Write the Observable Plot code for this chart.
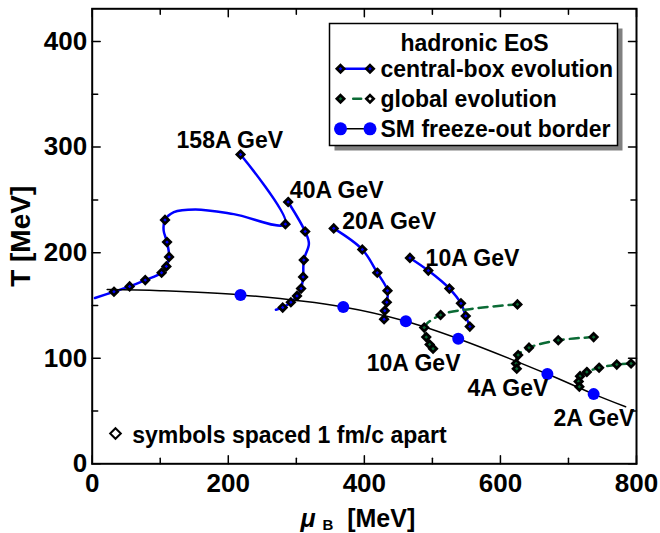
<!DOCTYPE html>
<html><head><meta charset="utf-8">
<script src="https://cdn.jsdelivr.net/npm/d3@7"></script>
<script src="https://cdn.jsdelivr.net/npm/@observablehq/plot@0.6"></script>
<style>
body{margin:0;background:#fff;}
</style></head><body><div id="chart"></div>
<script>
// ---- axis ticks ----
const xTicks = [0, 200, 400, 600, 800];
const xMinor = [100, 300, 500, 700];
const yTicks = [0, 100, 200, 300, 400];
const yMinor = [50, 150, 250, 350];
const xDomain = [0, 800];
const yDomain = [0, 431];

// ---- central-box evolution (hadronic EoS): [muB, T, symbol?] ----
const box158 = [[218,293,1],[284,227,1],[208,236.5,0],[152,241,0],[120,238.5,0],[107,231,1],[105,221,0],[110,210,1],[113,196,1],[109,187,1],[102,181,1],[78,174,1],[55,168,1],[32,163,1],[4,157,0]];
const box40  = [[288,248,1],[313,220,1],[318.5,208.5,0],[311,193,1],[310,177,1],[307,166,1],[301,159,1],[292,153,1],[280,148,1],[270,146,0]];
const box20  = [[355,223,1],[397,203,1],[419,181,1],[434,164,1],[433,153,1],[430,145,1],[429,137,1]];
const box10  = [[467,195,1],[494,183,1],[525,166,1],[542,152,1],[549,140,1],[555,130,1]];

// ---- global evolution ----
const glob10 = [[625,151,1],[560,147,0],[512,141,1],[488,129,1],[491,120,1],[496,113,1],[501,109,1]];
const glob4  = [[737,120,1],[685,117,1],[642,110,1],[626,103,1],[623,95,1],[624,90,1]];
const glob2  = [[792,95,1],[771,94,1],[745,91,1],[727,87,1],[717,83,1],[715,78,1],[716,73,1]];

// ---- statistical-model freeze-out border ----
const smLine = [[22,165],[100,164],[218,160],[369,148.5],[461,135],[538,118.5],[669,85],[737,66],[784,54]];
const smDots = [[218,160],[369,148.5],[461,135],[538,118.5],[669,85],[737,66]];

// ---- energy labels: [muB, T, text] ----
const energyLabels = [
  [124, 306, "158A GeV"],
  [290.5, 259, "40A GeV"],
  [367.5, 229, "20A GeV"],
  [490, 194, "10A GeV"],
  [403.5, 95, "10A GeV"],
  [551.5, 71, "4A GeV"],
  [678, 43, "2A GeV"]
];

const legendTitle = "hadronic EoS";
const legendItems = ["central-box evolution", "global evolution", "SM freeze-out border"];
const noteText = "symbols spaced 1 fm/c apart";

const BLUE = "#0000ff", GREEN = "#0b6b35";
const FONT = "Liberation Sans, Arial, sans-serif";

const seg = {draw(ctx, l) { ctx.moveTo(0, 0); ctx.lineTo(0, -l); }};
const tk = (data, o) => Plot.vector(data, {shape: seg, anchor: "start", stroke: "black", strokeWidth: 1.5, ...o});
const X = d => d[0], Y = d => d[1];
const sym = arr => arr.filter(d => d[2]);

const diamond = (arr, fill) => Plot.dot(sym(arr), {x: X, y: Y, symbol: "diamond2", r: 3.3, stroke: "black", strokeWidth: 2.7, fill});
const boxLine = arr => Plot.line(arr, {x: X, y: Y, curve: "catmull-rom", stroke: BLUE, strokeWidth: 2.5});
const globLine = arr => Plot.line(arr, {x: X, y: Y, curve: "catmull-rom", stroke: GREEN, strokeWidth: 2.5, strokeDasharray: "9,6"});

const L = {frameAnchor: "top-left"};
const TXT = {fontSize: 23, fontWeight: "bold", lineAnchor: "middle", fill: "black"};
const rowY = [60, 90, 120];

const chart = Plot.plot({
  width: 660, height: 533,
  marginLeft: 91.7, marginRight: 24, marginTop: 8.3, marginBottom: 69.7,
  style: {fontFamily: FONT, background: "white", color: "black"},
  x: {domain: xDomain},
  y: {domain: yDomain},
  marks: [
    // data
    boxLine(box158), boxLine(box40), boxLine(box20), boxLine(box10),
    globLine(glob10), globLine(glob4), globLine(glob2),
    Plot.line(smLine, {x: X, y: Y, curve: "catmull-rom", stroke: "black", strokeWidth: 1.5}),
    Plot.dot(smDots, {x: X, y: Y, r: 6, fill: BLUE}),
    diamond(box158, BLUE), diamond(box40, BLUE), diamond(box20, BLUE), diamond(box10, BLUE),
    diamond(glob10, GREEN), diamond(glob4, GREEN), diamond(glob2, GREEN),
    Plot.text(energyLabels, {x: X, y: Y, text: d => d[2], textAnchor: "start", ...TXT}),

    // frame + inward ticks
    Plot.frame({stroke: "black", strokeWidth: 2}),
    tk(xTicks, {x: d => d, y: yDomain[0], length: 8, rotate: 0}),
    tk(xMinor, {x: d => d, y: yDomain[0], length: 5.5, rotate: 0}),
    tk(xTicks, {x: d => d, y: yDomain[1], length: 8, rotate: 180}),
    tk(xMinor, {x: d => d, y: yDomain[1], length: 5.5, rotate: 180}),
    tk(yTicks, {y: d => d, x: xDomain[0], length: 8, rotate: 90}),
    tk(yMinor, {y: d => d, x: xDomain[0], length: 5.5, rotate: 90}),
    tk(yTicks, {y: d => d, x: xDomain[1], length: 8, rotate: -90}),
    tk(yMinor, {y: d => d, x: xDomain[1], length: 5.5, rotate: -90}),
    Plot.axisX(xTicks, {tickSize: 0, tickPadding: 10, fontSize: 26, fontWeight: "bold", label: null}),
    Plot.axisY(yTicks, {tickSize: 0, tickPadding: 5, fontSize: 26, fontWeight: "bold", label: null}),

    // axis titles
    Plot.text(["T [MeV]"], {frameAnchor: "left", dx: -71, rotate: -90, fontSize: 28, fontWeight: "bold", textAnchor: "middle", lineAnchor: "middle"}),
    Plot.text(["\u03bc"], {frameAnchor: "bottom", dx: -63.9, dy: 55, textAnchor: "start", lineAnchor: "middle", fontSize: 25, fontWeight: "bold", fontStyle: "italic"}),
    Plot.text(["B"], {frameAnchor: "bottom", dx: -41.9, dy: 61.5, textAnchor: "start", lineAnchor: "middle", fontSize: 15, fontWeight: "bold"}),
    Plot.text(["[MeV]"], {frameAnchor: "bottom", dx: -17.2, dy: 55, textAnchor: "start", lineAnchor: "middle", fontSize: 25, fontWeight: "bold"}),

    // legend box
    Plot.frame({fill: "#808080", stroke: "none", insetLeft: 242.3, insetTop: 19.7, insetRight: 14, insetBottom: 313.3}),
    Plot.frame({fill: "white", stroke: "black", strokeWidth: 1.5, insetLeft: 237.3, insetTop: 14.7, insetRight: 19, insetBottom: 318.3}),
    Plot.text([legendTitle], {...L, dx: 382.3, dy: 34.5, textAnchor: "middle", ...TXT}),
    ...legendItems.map((t, i) => Plot.text([t], {...L, dx: 288.3, dy: rowY[i] + 0.8, textAnchor: "start", ...TXT})),
    tk([0], {...L, dx: 248.3, dy: rowY[0], length: 29.5, rotate: 90, stroke: BLUE, strokeWidth: 2.5}),
    tk([0], {...L, dx: 255, dy: rowY[1], length: 17, rotate: 90, stroke: GREEN, strokeWidth: 2.5, strokeDasharray: "8,6", strokeDashoffset: -6}),
    tk([0], {...L, dx: 248.3, dy: rowY[2], length: 29.5, rotate: 90, stroke: "black", strokeWidth: 1.5}),
    Plot.dot([0], {...L, dx: 248.3, dy: rowY[0], symbol: "diamond2", r: 3.3, stroke: "black", strokeWidth: 2.7, fill: BLUE}),
    Plot.dot([0], {...L, dx: 277.8, dy: rowY[0], symbol: "diamond2", r: 3.3, stroke: "black", strokeWidth: 2.7, fill: BLUE}),
    Plot.dot([0], {...L, dx: 248.3, dy: rowY[1], symbol: "diamond2", r: 3.3, stroke: "black", strokeWidth: 2.7, fill: GREEN}),
    Plot.dot([0], {...L, dx: 277.8, dy: rowY[1], symbol: "diamond2", r: 3.3, stroke: "black", strokeWidth: 2.7, fill: "white"}),
    Plot.dot([0], {...L, dx: 248.3, dy: rowY[2], r: 6.5, fill: BLUE}),
    Plot.dot([0], {...L, dx: 277.8, dy: rowY[2], r: 6.5, fill: BLUE}),

    // note
    Plot.dot([0], {frameAnchor: "bottom-left", dx: 23.3, dy: -30.3, symbol: "diamond2", r: 4.8, stroke: "black", strokeWidth: 2, fill: "white"}),
    Plot.text([noteText], {frameAnchor: "bottom-left", dx: 40, dy: -28.2, textAnchor: "start", ...TXT})
  ]
});
document.getElementById("chart").append(chart);
</script></body></html>
